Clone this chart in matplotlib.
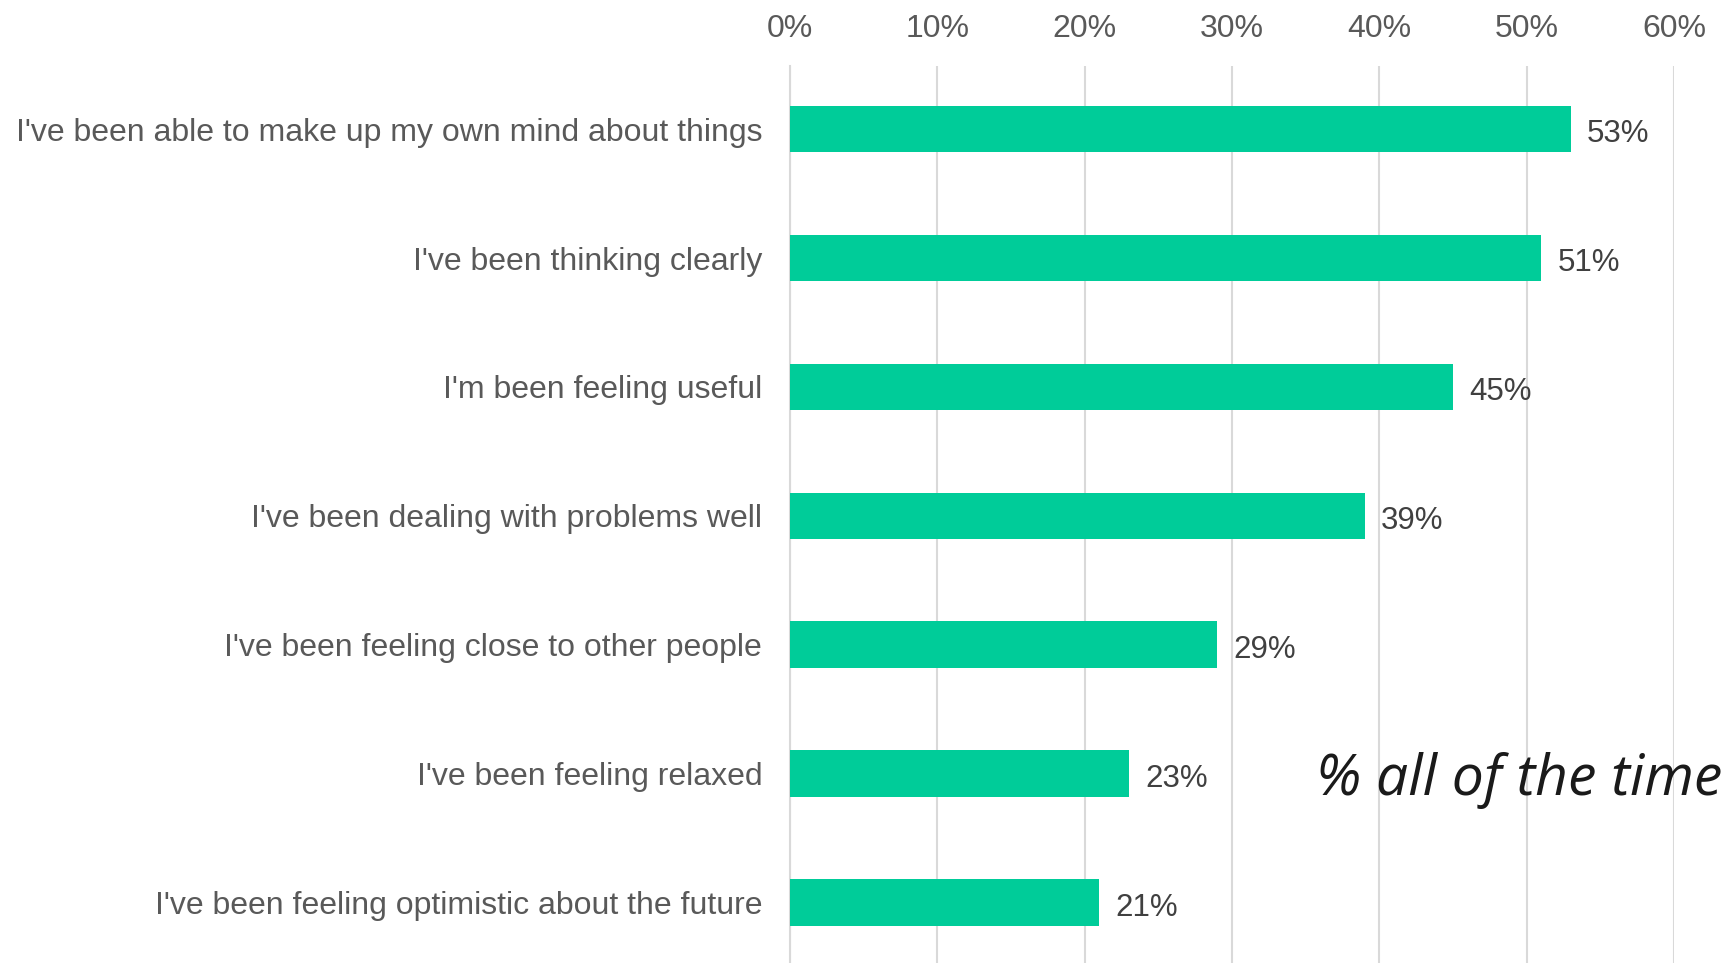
import matplotlib.pyplot as plt
from matplotlib.ticker import PercentFormatter

# Survey statements and share answering "all of the time"
statements = [
    "I've been able to make up my own mind about things",
    "I've been thinking clearly",
    "I'm been feeling useful",
    "I've been dealing with problems well",
    "I've been feeling close to other people",
    "I've been feeling relaxed",
    "I've been feeling optimistic about the future",
]
pct_all_time = [53, 51, 45, 39, 29, 23, 21]
x_ticks = [0, 10, 20, 30, 40, 50, 60]

bar_color = "#00CC99"
text_grey = "#595959"

plt.rcParams['font.family'] = ['Liberation Sans', 'DejaVu Sans']

fig = plt.figure(figsize=(17.3, 9.63), dpi=100)
ax = fig.add_axes([0.4566, 0.0, 0.5110, 0.9315])

ypos = list(range(len(statements)))
ax.barh(ypos, pct_all_time, height=0.36, color=bar_color, zorder=3)

for y, v in zip(ypos, pct_all_time):
    ax.text(v + 1.1, y + 0.04, f"{v}%", va="center", ha="left",
            fontsize=22.5, color="#404040")

ax.set_yticks(ypos)
ax.set_yticklabels(statements, fontsize=23, color=text_grey)
ax.set_ylim(len(statements) - 0.53, -0.49)

ax.set_xlim(0, 60)
ax.set_xticks(x_ticks)
ax.xaxis.set_major_formatter(PercentFormatter(decimals=0))
ax.xaxis.tick_top()
ax.tick_params(axis="x", labelsize=23, labelcolor=text_grey, length=0, pad=16)
ax.tick_params(axis="y", length=0, pad=20)

ax.grid(axis="x", color="#D9D9D9", linewidth=1.5, zorder=0)
for side in ["top", "right", "bottom"]:
    ax.spines[side].set_visible(False)
ax.spines["left"].set_color("#D9D9D9")
ax.spines["left"].set_linewidth(1.5)

ax.text(1.055, 0.187, "% all of the time", transform=ax.transAxes,
        ha="right", va="baseline", fontsize=41, style="italic",
        family=["Open Sans", "DejaVu Sans"], color="#1a1a1a", zorder=5,
        clip_on=False)

fig.savefig("out.png", dpi=100)
plt.close(fig)
